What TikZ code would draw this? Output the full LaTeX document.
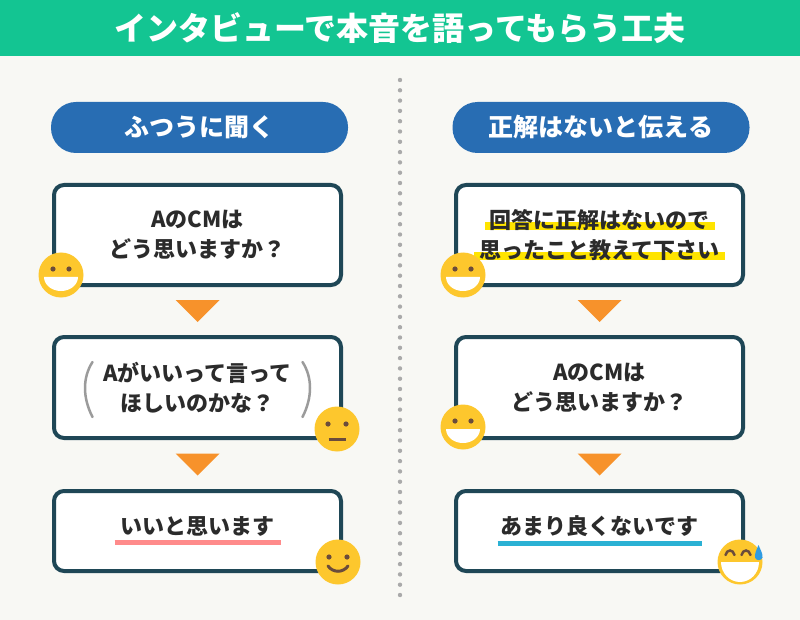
\documentclass[tikz,border=0pt]{standalone}
\usepackage{fontspec}
\setmainfont{Noto Sans CJK JP}
\usetikzlibrary{calc,positioning}

\definecolor{headgreen}{HTML}{13C592}
\definecolor{paper}{HTML}{F8F8F4}
\definecolor{pillblue}{HTML}{286DB3}
\definecolor{boxline}{HTML}{1F4756}
\definecolor{textc}{HTML}{2B2B2B}
\definecolor{triorange}{HTML}{F7922B}
\definecolor{pinkline}{HTML}{FF8B8B}
\definecolor{blueline}{HTML}{2BB1D4}
\definecolor{hlyellow}{HTML}{FFE400}
\definecolor{faceyellow}{HTML}{FDC72D}
\definecolor{facebrown}{HTML}{6B4C3B}
\definecolor{sweatblue}{HTML}{2F9BE2}
\definecolor{parengray}{HTML}{9B9B9B}
\definecolor{dotgray}{HTML}{AAAAAA}

\newcommand\hlmark[1]{\setbox0=\hbox{#1}\makebox[0pt][l]{\hspace{-5pt}\textcolor{hlyellow}{\rule[-2pt]{\dimexpr\wd0+10pt\relax}{8pt}}}\box0}

\tikzset{
  header/.style={fill=headgreen, minimum width=800pt, minimum height=56pt, text=white,
    font=\bfseries\fontsize{32}{40}\selectfont},
  pill/.style={fill=pillblue, rounded corners=25pt, minimum width=297pt, minimum height=51pt,
    text=white, font=\bfseries\fontsize{25}{30}\selectfont},
  box/.style={draw=boxline, line width=4pt, fill=white, rounded corners=10pt, minimum width=287pt,
    align=center, text=textc, font=\bfseries\fontsize{22}{30}\selectfont},
  tri/.style={fill=triorange},
  paren/.style={draw=parengray, line width=2.5pt, line cap=round},
  face/.style={fill=faceyellow},
  pics/grin/.style={code={
    \fill[face] (0,0) circle (22.5pt);
    \fill[facebrown] (-8,-6) circle (2.6pt) (8,-6) circle (2.6pt);
    \fill[white] (-17,2) -- (17,2) arc[start angle=0, end angle=-180, x radius=17pt, y radius=14pt] -- cycle;
  }},
  pics/meh/.style={code={
    \fill[face] (0,0) circle (22.5pt);
    \fill[facebrown] (-9,-5) circle (2.6pt) (9,-5) circle (2.6pt);
    \draw[facebrown, line width=3pt] (-8.5,10) -- (8.5,10);
  }},
  pics/smile/.style={code={
    \fill[face] (0,0) circle (22.5pt);
    \fill[facebrown] (-9,-5) circle (2.6pt) (9,-5) circle (2.6pt);
    \draw[facebrown, line width=3pt, line cap=round] (-10,4) .. controls (-5,11) and (5,11) .. (10,4);
  }},
  pics/sweatgrin/.style={code={
    \fill[face] (0,0) circle (22.5pt);
    \draw[facebrown, line width=2.5pt, line cap=round] (-14.5,-7) .. controls (-13,-13) and (-7,-13) .. (-5.5,-7)
      (1.5,-7) .. controls (3,-13) and (9,-13) .. (10.5,-7);
    \fill[white] (-19,0) -- (19,0) arc[start angle=0, end angle=-180, x radius=19pt, y radius=20pt] -- cycle;
    \fill[sweatblue] (18.5,-17) .. controls (21,-11) and (23,-8) .. (22.5,-4.5)
      .. controls (21.5,-1) and (16,-1) .. (15,-4.5) .. controls (14.5,-8) and (16,-11) .. (18.5,-17) -- cycle;
  }}
}

\begin{document}
\begin{tikzpicture}[x=1pt, y=-1pt]
  \fill[paper] (0,0) rectangle (800,620);
  \useasboundingbox (0,0) rectangle (800,620);
  \node[header] (title) at (400,28) {インタビューで本音を語ってもらう工夫};

  % divider
  \foreach \i in {0,...,50}
    \fill[dotgray] (400,80+10.3*\i) circle (2.2pt);

  \node[pill] (lhead) at (199.5,127.5) {ふつうに聞く};
  \node[pill] (rhead) at (601,127.5) {正解はないと伝える};

  \node[box, minimum height=100pt] (l1) at (197.5,235) {AのCMは\\どう思いますか？};
  \node[box, minimum height=101pt] (l2) at (197.5,387.5) {Aがいいって言って\\ほしいのかな？};
  \node[box, minimum height=80pt] (l3) at (197.5,531)
    {いいと思います\\[-19pt]\textcolor{pinkline}{\rule{166pt}{5pt}}};

  \node[box, minimum height=100pt] (r1) at (599.5,235)
    {\hlmark{回答に正解はないので}\\\hlmark{思ったこと教えて下さい}};
  \node[box, minimum height=101pt] (r2) at (599.5,387.5) {AのCMは\\どう思いますか？};
  \node[box, minimum height=80pt] (r3) at (599.5,531)
    {あまり良くないです\\[-19pt]\textcolor{blueline}{\rule{204pt}{5pt}}};

  \foreach \a/\b in {l1/l2,l2/l3,r1/r2,r2/r3}
    \fill[tri] ($(\a.south)!0.5!(\b.north)$) ++(-22,-11) -- ++(44,0) -- ++(-22,22) -- cycle;

  \begin{scope}[shift={(l2.center)}]
    \draw[paren] (-105,-25.5) .. controls (-115,-10) and (-115,10) .. (-105,29.5);
    \draw[paren] (105,-25.5) .. controls (115,-10) and (115,10) .. (105,29.5);
  \end{scope}

  \pic at ($(l1.south west)+(9,-12)$) {grin};
  \pic at ($(l2.south east)+(-6,-11)$) {meh};
  \pic at ($(l3.south east)+(-5,-11)$) {smile};
  \pic at ($(r1.south west)+(9,-12)$) {grin};
  \pic at ($(r2.south west)+(9,-13)$) {grin};
  \pic at ($(r3.south east)+(-5,-11)$) {sweatgrin};
\end{tikzpicture}
\end{document}
